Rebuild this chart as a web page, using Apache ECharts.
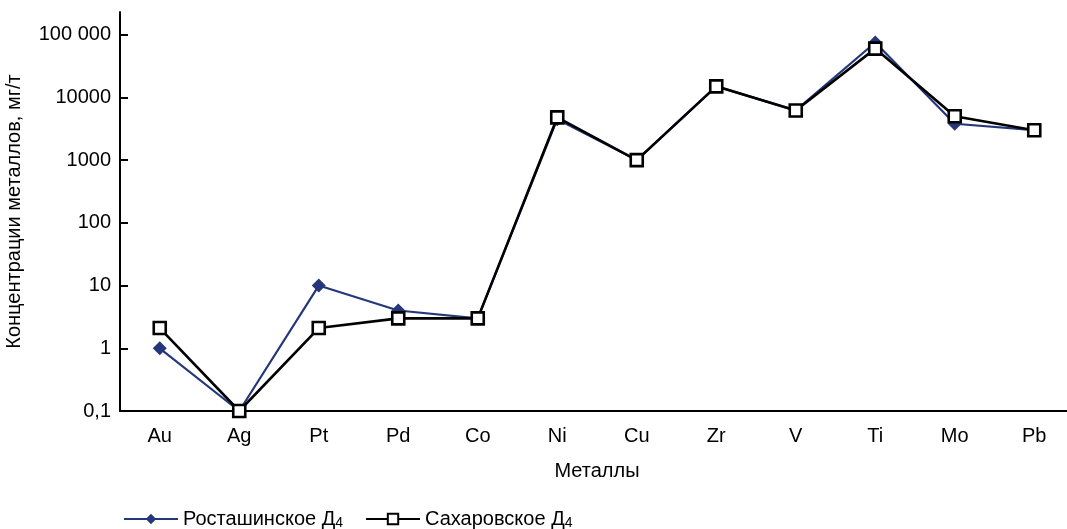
<!DOCTYPE html>
<html><head><meta charset="utf-8">
<script src="https://cdn.jsdelivr.net/npm/echarts@6/dist/echarts.min.js"></script>
<style>html,body{margin:0;padding:0;background:#fff}#c{width:1067px;height:529px}</style>
</head><body><div id="c"></div>
<script>
var categories = ['Au','Ag','Pt','Pd','Co','Ni','Cu','Zr','V','Ti','Mo','Pb'];
var rostash = [1, 0.1, 10, 4, 3, 4500, 1000, 15000, 6200, 75000, 3800, 3000];
var sakharov = [2.1, 0.1, 2.1, 3, 3, 4800, 1000, 15000, 6200, 60000, 5000, 3000];
var yTicks = [0.1, 1, 10, 100, 1000, 10000, 100000];
var yTickLabels = ['0,1', '1', '10', '100', '1000', '10000', '100 000'];
var seriesNames = ['Росташинское Д4', 'Сахаровское Д4'];

var chart = echarts.init(document.getElementById('c'));
var font = 'Liberation Sans, Arial, sans-serif';
chart.setOption({
  animation: false,
  textStyle: {fontFamily: font},
  grid: {left: 120, right: -7, top: 12, bottom: 118, containLabel: false, outerBoundsMode: 'none'},
  legend: {
    left: 118, top: 504, itemWidth: 54, itemHeight: 13, itemGap: 22,
    textStyle: {fontSize: 20, color: '#000', fontFamily: font,
      rich: {n: {fontSize: 20, color: '#000', fontFamily: font},
             s: {fontSize: 14, color: '#000', fontFamily: font, padding: [8, 0, 0, 0]}}},
    formatter: function (name) { return '{n|' + name.slice(0, -1) + '}{s|' + name.slice(-1) + '}'; },
    data: seriesNames
  },
  xAxis: {
    type: 'category', data: categories, boundaryGap: true,
    name: 'Металлы', nameLocation: 'middle', nameGap: 50,
    nameTextStyle: {fontSize: 20, color: '#000'},
    axisLine: {lineStyle: {color: '#000', width: 2}},
    axisTick: {inside: true, length: 8, lineStyle: {color: '#000', width: 2}},
    axisLabel: {fontSize: 20, color: '#000', margin: 15}
  },
  yAxis: {
    type: 'log', min: 0.1, max: 230000, logBase: 10,
    name: 'Концентрации металлов, мг/т', nameLocation: 'middle', nameGap: 96,
    nameTextStyle: {fontSize: 20, color: '#000'},
    axisLine: {show: true, lineStyle: {color: '#000', width: 2}},
    axisTick: {show: true, inside: true, length: 8, lineStyle: {color: '#000', width: 2}, customValues: yTicks},
    axisLabel: {fontSize: 20, color: '#000', margin: 9, customValues: yTicks,
      formatter: function (v) {
        for (var i = 0; i < yTicks.length; i++) { if (Math.abs(Math.log10(v) - Math.log10(yTicks[i])) < 1e-6) return yTickLabels[i]; }
        return '';
      }},
    splitLine: {show: false}
  },
  series: [
    {name: seriesNames[0], type: 'line', data: rostash, symbol: 'diamond', symbolSize: 14,
      lineStyle: {color: '#24377a', width: 2.2}, itemStyle: {color: '#24377a'}, z: 2},
    {name: seriesNames[1], type: 'line', data: sakharov, symbol: 'rect', symbolSize: 12,
      lineStyle: {color: '#000', width: 2.6}, itemStyle: {color: '#fff', borderColor: '#000', borderWidth: 2.6}, z: 3}
  ]
});
</script></body></html>
